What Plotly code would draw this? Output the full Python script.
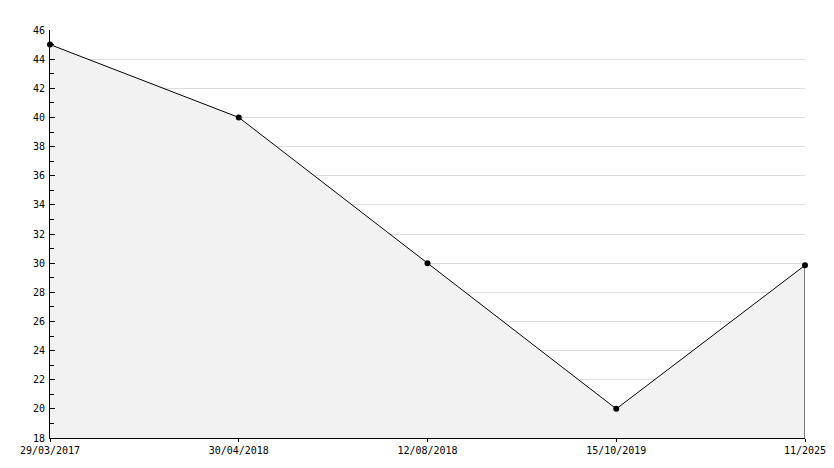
import plotly.graph_objects as go

dates = ["29/03/2017", "30/04/2018", "12/08/2018", "15/10/2019", "11/2025"]
values = [45, 40, 30, 20, 29.85]
y_ticks = list(range(18, 47, 2))

xs = list(range(len(dates)))
font = dict(family="DejaVu Sans Mono", size=10, color="#000000")

fig = go.Figure()
fig.add_trace(go.Scatter(
    x=xs, y=values, mode="lines+markers", fill="tozeroy",
    fillcolor="#f2f2f2",
    line=dict(color="#000000", width=1),
    marker=dict(color="#000000", size=6, symbol="circle"),
    hoverinfo="skip", showlegend=False, cliponaxis=False,
))
fig.add_trace(go.Scatter(
    x=[xs[-1], xs[-1]], y=[y_ticks[0], values[-1]], mode="lines",
    line=dict(color="#000000", width=1), hoverinfo="skip", showlegend=False,
))

fig.update_layout(
    width=834, height=468,
    margin=dict(l=50, r=29, t=30, b=30),
    paper_bgcolor="white", plot_bgcolor="white",
    font=font,
    xaxis=dict(
        range=[0, len(dates) - 1], tickvals=xs, ticktext=dates,
        showgrid=False, zeroline=False, showline=True, linecolor="#000000",
        linewidth=1, ticks="outside", ticklen=3, tickcolor="#000000",
        tickfont=font, automargin=False, ticklabelstandoff=0,
    ),
    yaxis=dict(
        range=[18, 46], tickvals=y_ticks, ticktext=[str(v) for v in y_ticks],
        showgrid=True, gridcolor="#dddddd", gridwidth=1,
        zeroline=False, showline=True, linecolor="#000000", linewidth=1,
        ticks="inside", ticklen=5, tickcolor="#000000",
        minor=dict(dtick=1, tick0=18, ticks="inside", ticklen=4, tickcolor="#000000", showgrid=False),
        tickfont=font, automargin=False, ticklabelstandoff=2,
    ),
)
fig.write_html("out.html", config={"displayModeBar": False},
               post_script="document.body.style.margin='0';")
